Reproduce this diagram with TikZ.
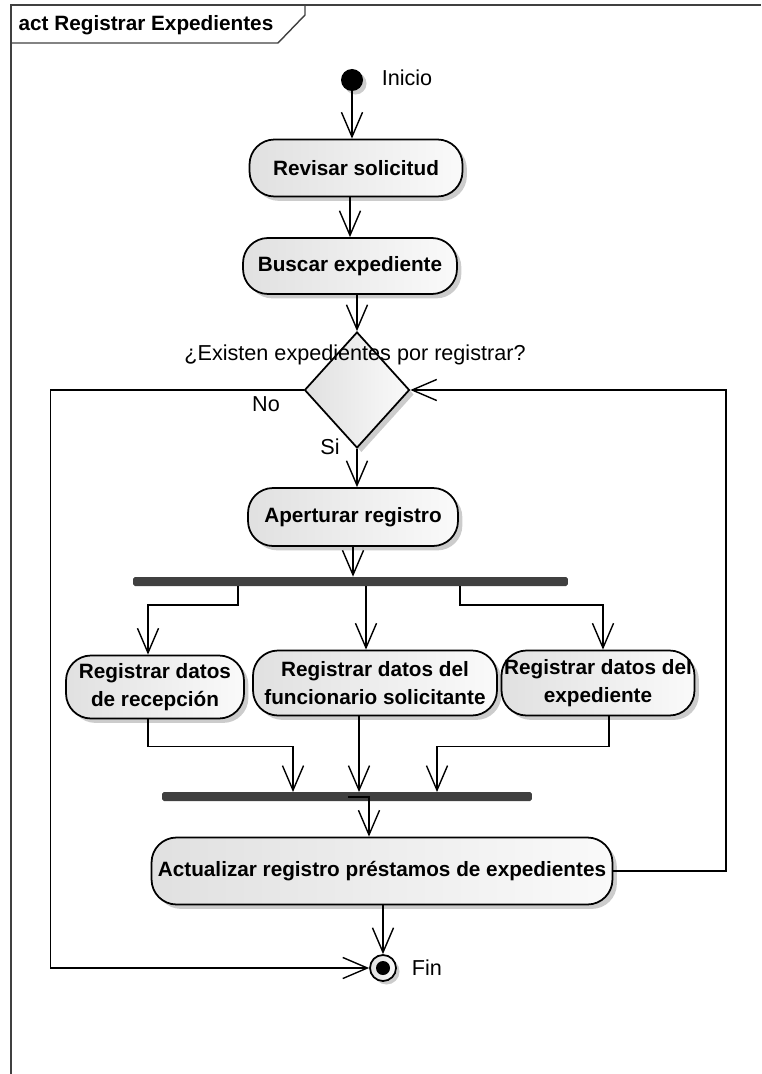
\documentclass[tikz,border=0pt]{standalone}
\usepackage{fontspec}
\setmainfont{Liberation Sans}
\usetikzlibrary{arrows.meta,shapes.geometric,shadows,calc}

\begin{document}
\begin{tikzpicture}[x=0.02cm,y=-0.02cm,
        attivita/.style={draw,line width=1pt,rounded corners=0.5cm,align=center,
            left color=black!12,right color=black!2,inner sep=1pt,
            drop shadow={shadow xshift=2.5pt,shadow yshift=-2.5pt,fill=black!40},
            font=\fontsize{11.8}{16}\selectfont\bfseries},
        barra/.style={fill=black!75,rounded corners=1pt,minimum height=0.18cm,inner sep=0pt},
        scelta/.style={diamond,draw,line width=1pt,inner sep=0pt,
            left color=black!12,right color=black!2,minimum width=2.1cm,minimum height=2.32cm,
            drop shadow={shadow xshift=2.5pt,shadow yshift=-2.5pt,fill=black!40}},
        etichetta/.style={font=\fontsize{12.3}{14}\selectfont,inner sep=1pt},
        flecha/.style={line width=0.8pt,-{Straight Barb[length=14pt,width=12pt,line width=0.8pt]}}]
        \useasboundingbox (0,0) rectangle (761,1074);

        %cornice del diagramma
        \draw[black!75,line width=1pt](11,1074)--(11,5)--(761,5);
        \draw[black!75,line width=0.8pt](11,43)--(278,43)--(305,15)--(305,5);
        \node (titolo) at (146,25)[font=\fontsize{11.8}{14}\selectfont\bfseries]{act Registrar Expedientes};

        %nodo iniziale
        \node (inicio) at (352,80)[circle,fill=black,minimum size=0.44cm,inner sep=0pt,
            drop shadow={shadow xshift=2pt,shadow yshift=-2pt,fill=black!40}]{};
        \node (linicio) at (407,78)[etichetta]{Inicio};

        %attivita principali
        \node (revisar) at (356,168)[attivita,minimum width=4.26cm,minimum height=1.14cm]{Revisar solicitud};
        \node (buscar) at (350,266)[attivita,minimum width=4.28cm,minimum height=1.12cm]{Buscar expediente};

        %decisione
        \node (decision) at (357,390)[scelta]{};
        \node (pregunta) at (355,355)[etichetta]{¿Existen expedientes por registrar?};
        \node (lno) at (266,404)[etichetta]{No};
        \node (lsi) at (330,447)[etichetta]{Si};

        \node (apertura) at (353,517)[attivita,minimum width=4.2cm,minimum height=1.16cm]{Aperturar registro};

        %fork e join
        \node (horquilla) at (350.5,581.5)[barra,minimum width=8.7cm]{};
        \node (union) at (347,796.5)[barra,minimum width=7.4cm]{};

        %attivita parallele
        \node (recepcion) at (155,687)[attivita,minimum width=3.56cm,minimum height=1.26cm]{Registrar datos\\de recepción};
        \node (funcionario) at (375,683)[attivita,minimum width=4.88cm,minimum height=1.3cm]{Registrar datos del\\funcionario solicitante};
        \node (expediente) at (598,683)[attivita,minimum width=3.86cm,minimum height=1.3cm]{Registrar datos del\\expediente};

        \node (actualizar) at (382,871)[attivita,minimum width=9.22cm,minimum height=1.34cm]{Actualizar registro préstamos de expedientes};

        %nodo finale
        \node (fin) at (383,968)[circle,draw,line width=1pt,minimum size=0.52cm,inner sep=0pt,
            left color=black!12,right color=black!2,
            drop shadow={shadow xshift=2pt,shadow yshift=-2pt,fill=black!40}]{};
        \fill (fin) circle (0.14cm);
        \node (lfin) at (427,968)[etichetta]{Fin};

        %punti su fork e join
        \coordinate (f1) at (238,586);
        \coordinate (f2) at (366,586);
        \coordinate (f3) at (460,586);
        \coordinate (j1) at (293,792);
        \coordinate (j2) at (359,792);
        \coordinate (j3) at (437,792);
        \coordinate (j4) at (348,797);

        %frecce
        \draw[flecha](inicio)--(inicio|-revisar.north);
        \draw[flecha](revisar.south-|buscar)--(buscar.north);
        \draw[flecha](buscar.south-|decision)--(decision.north);
        \draw[flecha](decision.south)--(decision.south|-apertura.north);
        \draw[flecha](apertura.south)--(apertura.south|-horquilla.north);

        \draw[flecha](f1)--++(0,19)-|($(recepcion.north)+(-7,0)$);
        \draw[flecha](f2)--(f2|-funcionario.north);
        \draw[flecha](f3)--++(0,19)-|($(expediente.north)+(5,0)$);

        \draw[flecha]($(recepcion.south)+(-7,0)$)--++(0,27)-|(j1);
        \draw[flecha](funcionario.south-|j2)--(j2);
        \draw[flecha]($(expediente.south)+(11,0)$)--++(0,30)-|(j3);

        \draw[flecha](j4)-|($(actualizar.north)+(-13,0)$);
        \draw[flecha](actualizar.south-|fin)--(fin.north);

        %cicli No e ritorno
        \draw[flecha](actualizar.east)--++(112.5,0)|-(decision.east);
        \draw[flecha](decision.west)--++(-253,0)|-(fin.west);
\end{tikzpicture}
\end{document}
